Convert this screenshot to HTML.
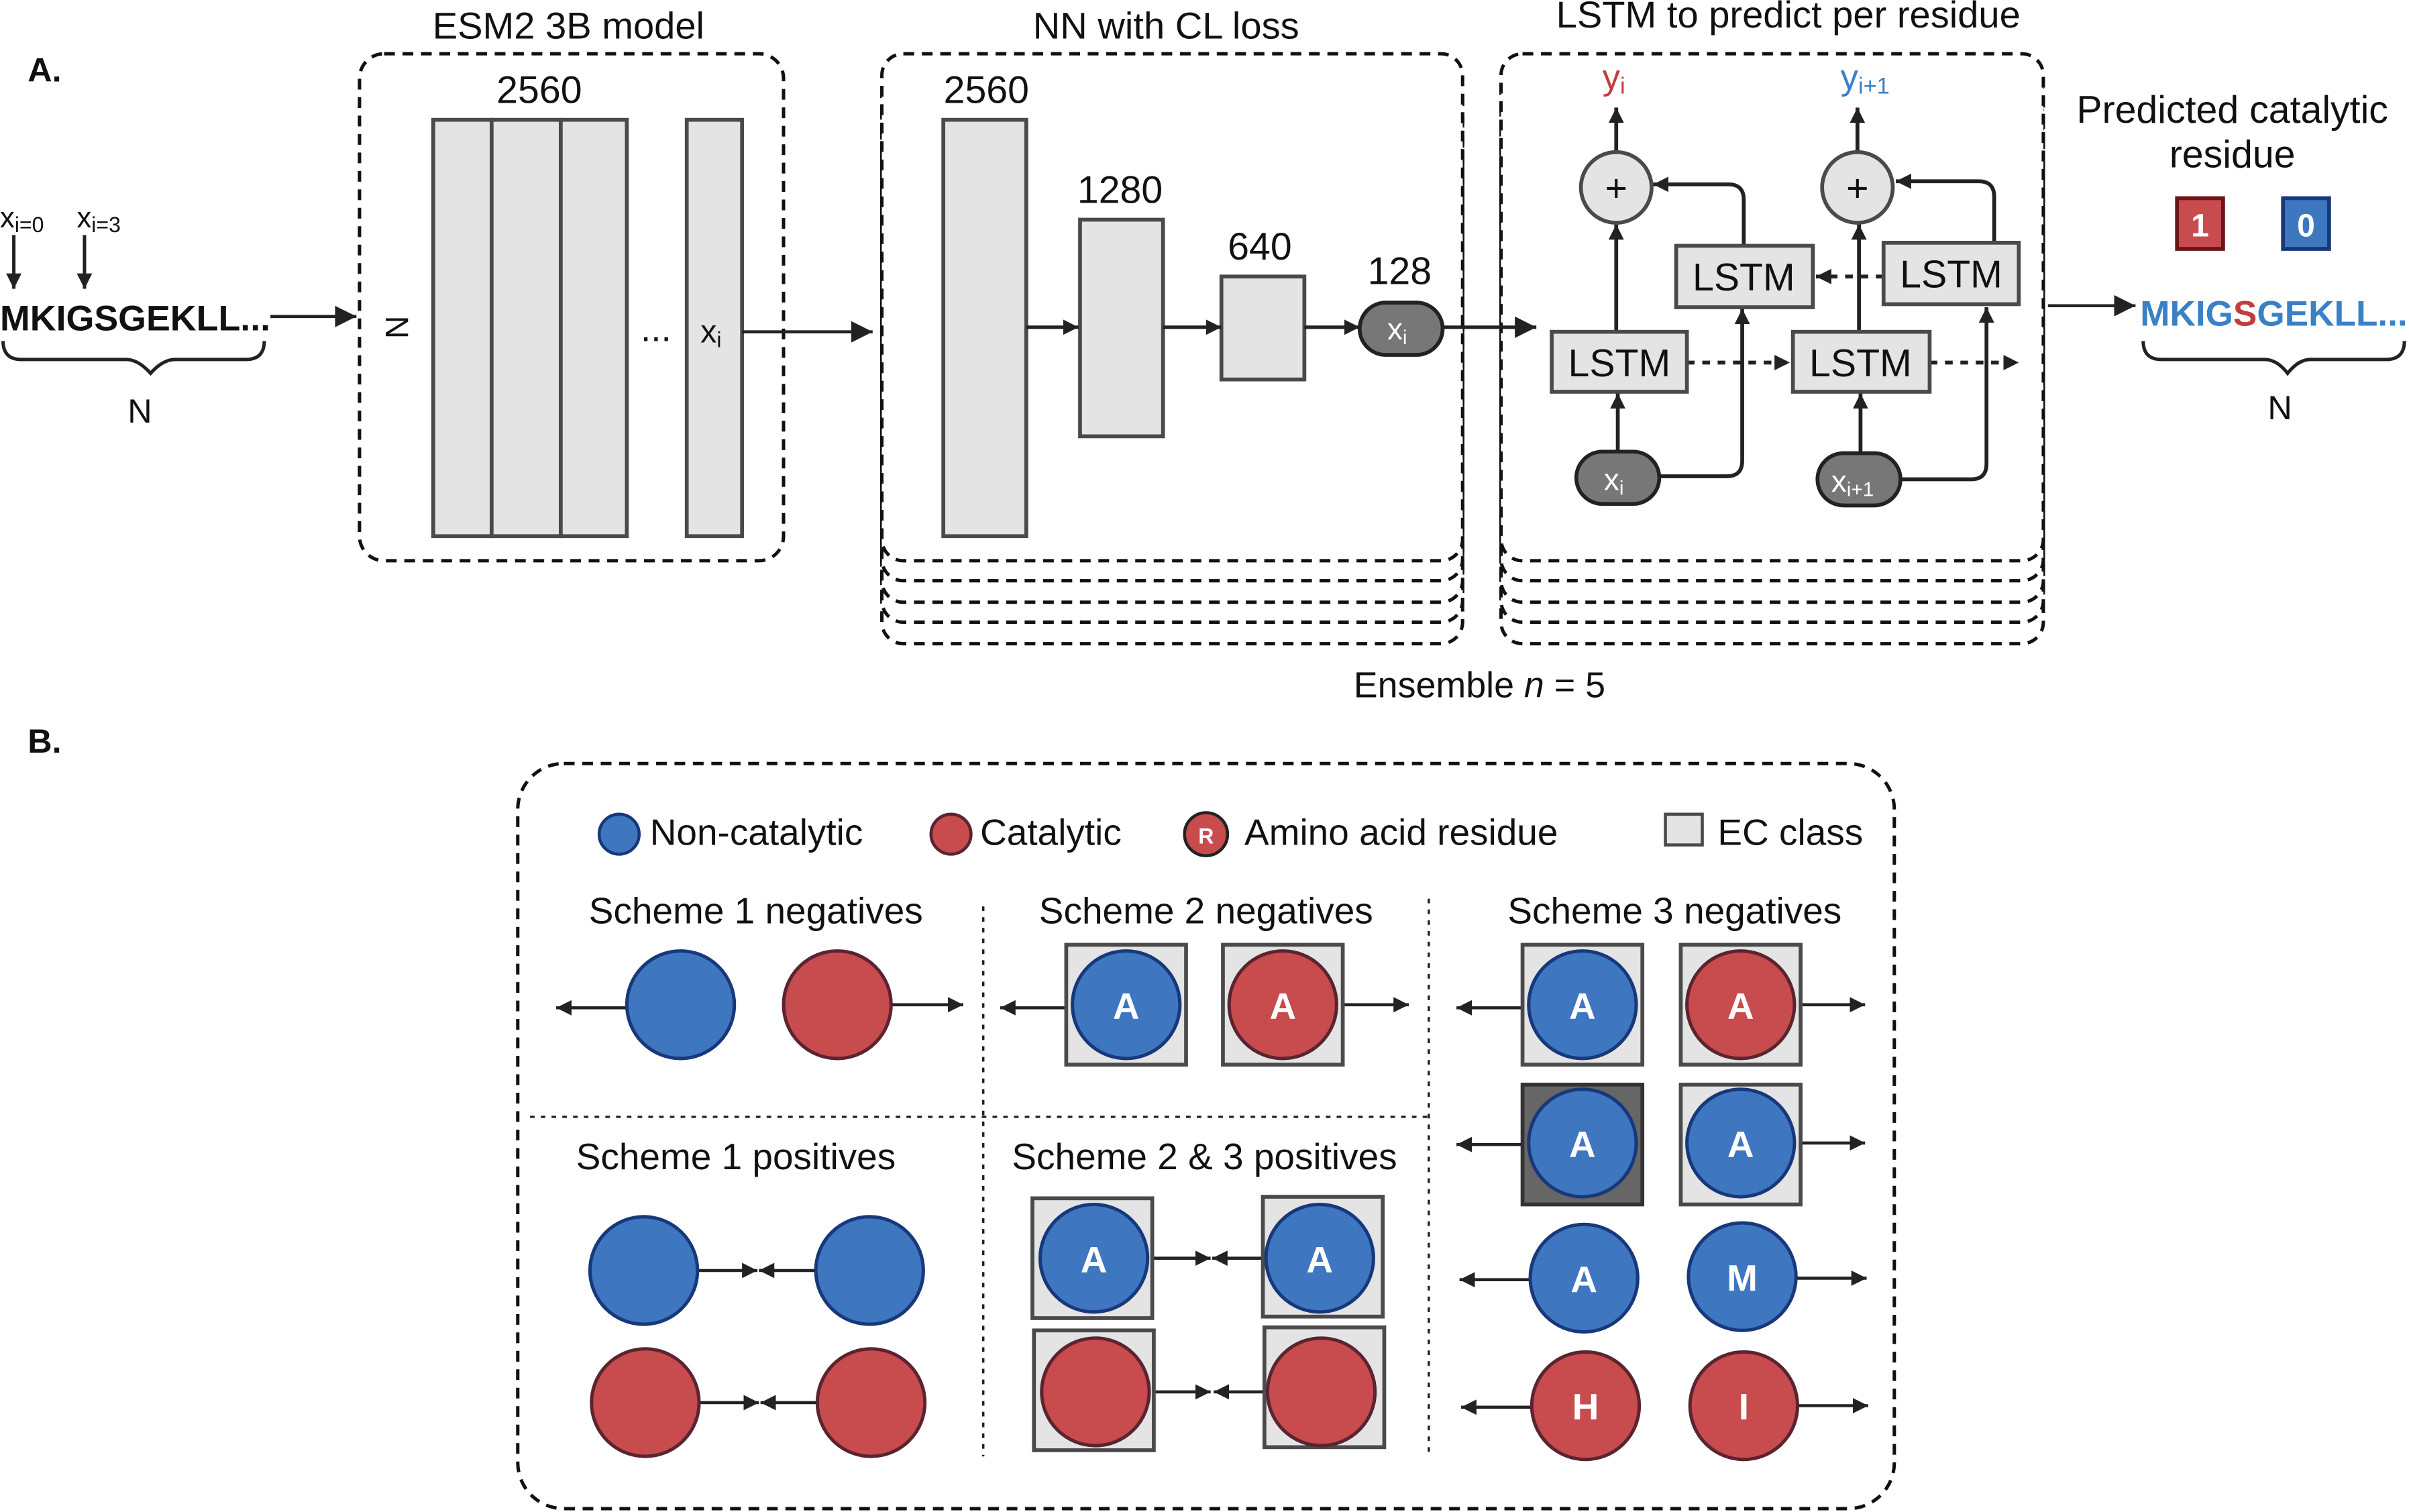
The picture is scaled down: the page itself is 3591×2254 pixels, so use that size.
<!DOCTYPE html>
<html><head><meta charset="utf-8"><style>
html,body{margin:0;padding:0;background:#fff;}
svg{display:block;}
text{font-family:"Liberation Sans",sans-serif;fill:#111;}
</style></head><body>
<svg width="3591" height="2254" viewBox="0 0 1568 984.2" preserveAspectRatio="none" xmlns="http://www.w3.org/2000/svg">
<defs>
<marker id="ah" markerUnits="userSpaceOnUse" markerWidth="14" markerHeight="14" viewBox="0 0 10 10" refX="10" refY="5" orient="auto"><path d="M0,0 L10,5 L0,10 z" fill="#222"/></marker>
<marker id="as" markerUnits="userSpaceOnUse" markerWidth="10" markerHeight="10" viewBox="0 0 10 10" refX="10" refY="5" orient="auto"><path d="M0,0 L10,5 L0,10 z" fill="#222"/></marker>
</defs>
<!-- A -->
<text x="18" y="53" font-size="22" font-weight="bold">A.</text>
<text x="0" y="148" font-size="19">x<tspan font-size="14" dy="3">i=0</tspan></text>
<text x="50" y="148" font-size="19">x<tspan font-size="14" dy="3">i=3</tspan></text>
<line x1="9" y1="153" x2="9" y2="188" stroke="#222" stroke-width="2.2" marker-end="url(#as)"/>
<line x1="55" y1="153" x2="55" y2="188" stroke="#222" stroke-width="2.2" marker-end="url(#as)"/>
<text x="0" y="215" font-size="23" font-weight="bold" textLength="176" lengthAdjust="spacingAndGlyphs">MKIGSGEKLL...</text>
<path d="M2,222 Q2,234 14,234 L82,234 Q90,234 98,243 Q106,234 114,234 L160,234 Q172,234 172,222" fill="none" stroke="#222" stroke-width="2.2"/>
<text x="91" y="275" font-size="22" text-anchor="middle">N</text>
<line x1="176" y1="206" x2="232" y2="206" stroke="#222" stroke-width="2" marker-end="url(#ah)"/>

<text x="370" y="25" font-size="24.5" text-anchor="middle">ESM2 3B model</text>
<rect x="234" y="35" width="276" height="330" rx="16" fill="none" stroke="#111" stroke-width="2.2" stroke-dasharray="7,5"/>
<text x="351" y="67" font-size="25" text-anchor="middle">2560</text>
<text x="0" y="0" font-size="21" transform="translate(251,213) rotate(90)" text-anchor="middle">N</text>
<g fill="#e4e4e4" stroke="#4a4a4a" stroke-width="2.5">
<rect x="282" y="78" width="38" height="271"/><rect x="320" y="78" width="45" height="271"/><rect x="365" y="78" width="43" height="271"/>
<rect x="447" y="78" width="36" height="271"/>
</g>
<text x="427" y="222" font-size="24" text-anchor="middle">...</text>
<text x="456" y="223" font-size="21">x<tspan font-size="14" dy="3">i</tspan></text>
<line x1="483" y1="216" x2="568" y2="216" stroke="#222" stroke-width="2" marker-end="url(#ah)"/>

<text x="759" y="25" font-size="24.5" text-anchor="middle">NN with CL loss</text>
<g fill="#fff" stroke="#111" stroke-width="2.2" stroke-dasharray="7,5">
<rect x="574" y="89" width="378" height="330" rx="14"/>
<rect x="574" y="75" width="378" height="330" rx="14"/>
<rect x="574" y="62" width="378" height="330" rx="14"/>
<rect x="574" y="48" width="378" height="330" rx="14"/>
<rect x="574" y="35" width="378" height="330" rx="14"/>
<rect x="977" y="89" width="353" height="330" rx="14"/>
<rect x="977" y="75" width="353" height="330" rx="14"/>
<rect x="977" y="62" width="353" height="330" rx="14"/>
<rect x="977" y="48" width="353" height="330" rx="14"/>
<rect x="977" y="35" width="353" height="330" rx="14"/>
</g>
<g fill="#e4e4e4" stroke="#4a4a4a" stroke-width="2.5">
<rect x="614" y="78" width="54" height="271"/><rect x="703" y="143" width="54" height="141"/><rect x="795" y="180" width="54" height="67"/>
</g>
<text x="642" y="67" font-size="25" text-anchor="middle">2560</text>
<text x="729" y="132" font-size="25" text-anchor="middle">1280</text>
<text x="820" y="169" font-size="25" text-anchor="middle">640</text>
<text x="911" y="185" font-size="25" text-anchor="middle">128</text>
<g stroke="#222" stroke-width="2.2">
<line x1="668" y1="213" x2="702" y2="213" marker-end="url(#as)"/>
<line x1="757" y1="213" x2="795" y2="213" marker-end="url(#as)"/>
<line x1="849" y1="213" x2="885" y2="213" marker-end="url(#as)"/>
<line x1="939" y1="213" x2="1000" y2="213" marker-end="url(#ah)"/>
</g>
<rect x="885" y="197" width="54" height="34" rx="17" fill="#777" stroke="#222" stroke-width="2.5"/>
<text x="903" y="221" font-size="20" style="fill:#fff">x<tspan font-size="13" dy="3" style="fill:#fff">i</tspan></text>

<text x="1164" y="18" font-size="24.5" text-anchor="middle">LSTM to predict per residue</text>
<text x="1043" y="58" font-size="23" style="fill:#c43c3c">y<tspan font-size="15" dy="3" style="fill:#c43c3c">i</tspan></text>
<text x="1198" y="58" font-size="23" style="fill:#3a80c6">y<tspan font-size="15" dy="3" style="fill:#3a80c6">i+1</tspan></text>
<g stroke="#222" stroke-width="2.5" fill="none">
<line x1="1052" y1="99" x2="1052" y2="70" marker-end="url(#as)"/>
<line x1="1209" y1="99" x2="1209" y2="70" marker-end="url(#as)"/>
<line x1="1052" y1="216" x2="1052" y2="146" marker-end="url(#as)"/>
<line x1="1210" y1="216" x2="1210" y2="146" marker-end="url(#as)"/>
<path d="M1135,160 L1135,130 Q1135,120 1125,120 L1076,120" marker-end="url(#as)"/>
<path d="M1298,158 L1298,128 Q1298,118 1288,118 L1234,118" marker-end="url(#as)"/>
<line x1="1053" y1="294" x2="1053" y2="256" marker-end="url(#as)"/>
<line x1="1211" y1="294" x2="1211" y2="256" marker-end="url(#as)"/>
<path d="M1080,310 L1124,310 Q1134,310 1134,300 L1134,201" marker-end="url(#as)"/>
<path d="M1237,312 L1283,312 Q1293,312 1293,302 L1293,200" marker-end="url(#as)"/>
<line x1="1098" y1="236" x2="1165" y2="236" stroke-dasharray="5,5" marker-end="url(#as)"/>
<line x1="1256" y1="236" x2="1314" y2="236" stroke-dasharray="5,5" marker-end="url(#as)"/>
<line x1="1226" y1="180" x2="1182" y2="180" stroke-dasharray="5,5" marker-end="url(#as)"/>
</g>
<g fill="#e4e4e4" stroke="#4a4a4a" stroke-width="2.5">
<rect x="1010" y="216" width="88" height="39"/><rect x="1091" y="160" width="89" height="40"/>
<rect x="1167" y="216" width="89" height="39"/><rect x="1226" y="158" width="88" height="40"/>
<ellipse cx="1052" cy="122" rx="23" ry="23"/><ellipse cx="1209" cy="122" rx="23" ry="23"/>
</g>
<g font-size="25" text-anchor="middle">
<text x="1054" y="245">LSTM</text><text x="1135" y="189">LSTM</text><text x="1211" y="245">LSTM</text><text x="1270" y="187">LSTM</text>
<text x="1052" y="131">+</text><text x="1209" y="131">+</text>
</g>
<rect x="1026" y="294" width="54" height="34" rx="17" fill="#777" stroke="#222" stroke-width="2.5"/>
<rect x="1183" y="295" width="54" height="34" rx="17" fill="#777" stroke="#222" stroke-width="2.5"/>
<text x="1044" y="319" font-size="20" style="fill:#fff">x<tspan font-size="13" dy="3" style="fill:#fff">i</tspan></text>
<text x="1192" y="320" font-size="20" style="fill:#fff">x<tspan font-size="13" dy="3" style="fill:#fff">i+1</tspan></text>

<line x1="1333" y1="199" x2="1390" y2="199" stroke="#222" stroke-width="2" marker-end="url(#ah)"/>
<text x="1453" y="80" font-size="25" text-anchor="middle">Predicted catalytic</text>
<text x="1453" y="109" font-size="25" text-anchor="middle">residue</text>
<rect x="1417" y="129" width="30" height="33" fill="#c84b4d" stroke="#6a151a" stroke-width="2.5"/>
<rect x="1486" y="129" width="30" height="33" fill="#3e76c0" stroke="#17387a" stroke-width="2.5"/>
<text x="1432" y="154" font-size="21" font-weight="bold" text-anchor="middle" style="fill:#fff">1</text>
<text x="1501" y="154" font-size="21" font-weight="bold" text-anchor="middle" style="fill:#fff">0</text>
<text x="1393" y="212" font-size="23" font-weight="bold" textLength="174" lengthAdjust="spacingAndGlyphs" style="fill:#3a80c6">MKIG<tspan style="fill:#c43c3c">S</tspan>GEKLL...</text>
<path d="M1395,222 Q1395,234 1407,234 L1474,234 Q1482,234 1489,243 Q1496,234 1504,234 L1553,234 Q1565,234 1565,222" fill="none" stroke="#222" stroke-width="2.2"/>
<text x="1484" y="273" font-size="22" text-anchor="middle">N</text>
<text x="963" y="454" font-size="23.5" text-anchor="middle">Ensemble <tspan font-style="italic">n</tspan> = 5</text>

<!-- B -->
<text x="18" y="490" font-size="22" font-weight="bold">B.</text>
<rect x="337" y="497" width="896" height="485" rx="30" fill="none" stroke="#111" stroke-width="2.2" stroke-dasharray="7,5"/>
<circle cx="403" cy="543" r="13" fill="#3e76c0" stroke="#17387a" stroke-width="2"/>
<text x="423" y="550" font-size="24">Non-catalytic</text>
<circle cx="619" cy="543" r="13" fill="#c84b4d" stroke="#5a2430" stroke-width="2"/>
<text x="638" y="550" font-size="24">Catalytic</text>
<circle cx="785" cy="543" r="14" fill="#c84b4d" stroke="#222" stroke-width="2"/>
<text x="785" y="549" font-size="14" font-weight="bold" text-anchor="middle" style="fill:#fff">R</text>
<text x="810" y="550" font-size="24">Amino acid residue</text>
<rect x="1084" y="530" width="24" height="20" fill="#e4e4e4" stroke="#4a4a4a" stroke-width="2"/>
<text x="1118" y="550" font-size="24">EC class</text>
<g stroke="#222" stroke-width="1.5" stroke-dasharray="3,4">
<line x1="640" y1="590" x2="640" y2="948"/><line x1="930" y1="585" x2="930" y2="948"/><line x1="345" y1="727" x2="930" y2="727"/>
</g>
<g font-size="24" text-anchor="middle">
<text x="492" y="601">Scheme 1 negatives</text><text x="785" y="601">Scheme 2 negatives</text><text x="1090" y="601">Scheme 3 negatives</text>
<text x="479" y="761">Scheme 1 positives</text><text x="784" y="761">Scheme 2 &amp; 3 positives</text>
</g>
<g stroke="#222" stroke-width="2" marker-end="url(#as)">
<line x1="408" y1="656" x2="362" y2="656"/><line x1="580" y1="654" x2="627" y2="654"/>
<line x1="694" y1="656" x2="651" y2="656"/><line x1="874" y1="654" x2="917" y2="654"/>
<line x1="991" y1="656" x2="948" y2="656"/><line x1="1172" y1="654" x2="1214" y2="654"/>
<line x1="991" y1="745" x2="948" y2="745"/><line x1="1172" y1="744" x2="1214" y2="744"/>
<line x1="996" y1="833" x2="950" y2="833"/><line x1="1169" y1="832" x2="1215" y2="832"/>
<line x1="997" y1="916" x2="951" y2="916"/><line x1="1170" y1="915" x2="1216" y2="915"/>
<line x1="454" y1="827" x2="493" y2="827"/><line x1="531" y1="827" x2="494" y2="827"/>
<line x1="455" y1="913" x2="494" y2="913"/><line x1="532" y1="913" x2="495" y2="913"/>
<line x1="750" y1="819" x2="788" y2="819"/><line x1="824" y1="819" x2="789" y2="819"/>
<line x1="750" y1="906" x2="788" y2="906"/><line x1="826" y1="906" x2="790" y2="906"/>
</g>
<g fill="#e4e4e4" stroke="#4a4a4a" stroke-width="2.5">
<rect x="694" y="615" width="78" height="78"/><rect x="796" y="615" width="78" height="78"/>
<rect x="991" y="615" width="78" height="78"/><rect x="1094" y="615" width="78" height="78"/>
<rect x="991" y="706" width="78" height="78" fill="#666" stroke="#333"/><rect x="1094" y="706" width="78" height="78"/>
<rect x="672" y="780" width="78" height="78"/><rect x="822" y="779" width="78" height="78"/>
<rect x="673" y="866" width="78" height="78"/><rect x="823" y="864" width="78" height="78"/>
</g>
<g fill="#3e76c0" stroke="#17387a" stroke-width="2.2">
<circle cx="443" cy="654" r="35"/><circle cx="733" cy="654" r="35"/><circle cx="1030" cy="654" r="35"/>
<circle cx="1030" cy="744" r="35"/><circle cx="1133" cy="744" r="35"/><circle cx="1031" cy="832" r="35"/><circle cx="1134" cy="831" r="35"/>
<circle cx="419" cy="827" r="35"/><circle cx="566" cy="827" r="35"/><circle cx="712" cy="819" r="35"/><circle cx="859" cy="819" r="35"/>
</g>
<g fill="#c84b4d" stroke="#5a2430" stroke-width="2.2">
<circle cx="545" cy="654" r="35"/><circle cx="835" cy="654" r="35"/><circle cx="1133" cy="654" r="35"/>
<circle cx="1032" cy="915" r="35"/><circle cx="1135" cy="915" r="35"/>
<circle cx="420" cy="913" r="35"/><circle cx="567" cy="913" r="35"/><circle cx="713" cy="906" r="35"/><circle cx="860" cy="906" r="35"/>
</g>
<g font-size="24" font-weight="bold" text-anchor="middle" style="fill:#fff">
<text x="733" y="663" style="fill:#fff">A</text><text x="835" y="663" style="fill:#fff">A</text>
<text x="1030" y="663" style="fill:#fff">A</text><text x="1133" y="663" style="fill:#fff">A</text>
<text x="1030" y="753" style="fill:#fff">A</text><text x="1133" y="753" style="fill:#fff">A</text>
<text x="1031" y="841" style="fill:#fff">A</text><text x="1134" y="840" style="fill:#fff">M</text>
<text x="1032" y="924" style="fill:#fff">H</text><text x="1135" y="924" style="fill:#fff">I</text>
<text x="712" y="828" style="fill:#fff">A</text><text x="859" y="828" style="fill:#fff">A</text>
</g>
</svg>
</body></html>
